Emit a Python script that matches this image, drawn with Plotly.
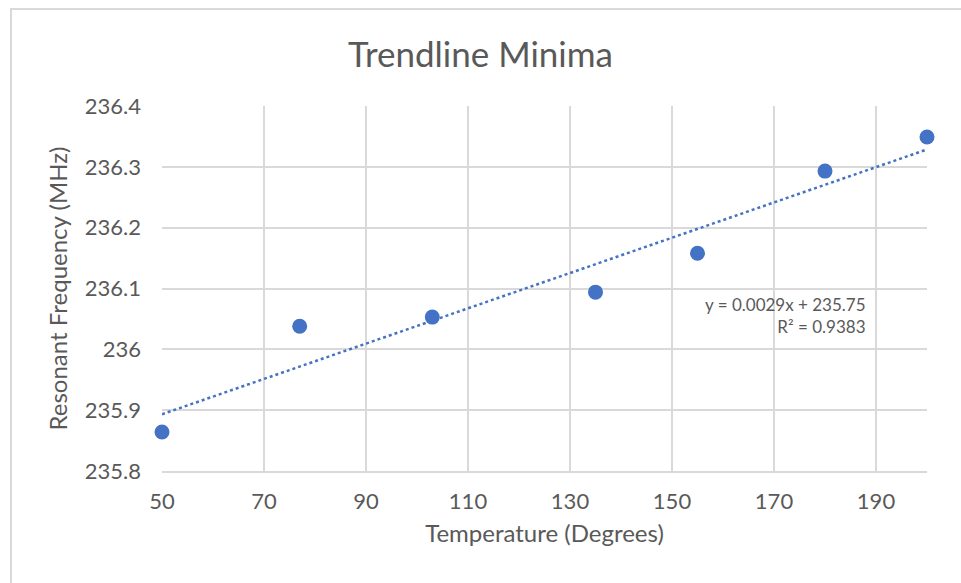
import numpy as np
import plotly.graph_objects as go

temperature = [50, 77, 103, 135, 155, 180, 200]
frequency = [235.864, 236.038, 236.053, 236.094, 236.158, 236.293, 236.349]
x_ticks = [50, 70, 90, 110, 130, 150, 170, 190]
y_ticks = [235.8, 235.9, 236.0, 236.1, 236.2, 236.3, 236.4]
y_tick_labels = ["235.8", "235.9", "236", "236.1", "236.2", "236.3", "236.4"]
equation_text = "y = 0.0029x + 235.75<br>R² = 0.9383"

slope, intercept = np.polyfit(temperature, frequency, 1)
trend_x = [50, 200]
trend_y = [slope * v + intercept for v in trend_x]

blue = "#4472C4"
grey_text = "#595959"
grid = "#d9d9d9"
font = "Lato"

fig = go.Figure()
fig.add_trace(go.Scatter(x=trend_x, y=trend_y, mode="lines",
                         line=dict(color=blue, width=2.5, dash="dot"),
                         hoverinfo="skip", cliponaxis=False))
fig.add_trace(go.Scatter(x=temperature, y=frequency, mode="markers",
                         marker=dict(color=blue, size=15), cliponaxis=False))

fig.update_layout(
    width=961, height=583,
    margin=dict(l=162, r=34, t=106, b=112),
    paper_bgcolor="white", plot_bgcolor="white",
    showlegend=False,
    font=dict(family=font, color=grey_text, size=20),
    title=dict(text="Trendline Minima", x=0.5, xanchor="center",
               y=1 - 55 / 583, yanchor="middle",
               font=dict(family=font, size=35, color=grey_text)),
    xaxis=dict(range=[50, 200], tickvals=x_ticks, showgrid=True, gridcolor=grid,
               gridwidth=1.5, zeroline=False, showline=True, linecolor=grid,
               linewidth=1.5, ticks="", ticklabelstandoff=10,
               title=dict(text="Temperature (Degrees)", standoff=12,
                          font=dict(family=font, size=24, color=grey_text)),
               tickfont=dict(family=font, size=22, color=grey_text)),
    yaxis=dict(range=[235.8, 236.4], tickvals=y_ticks, ticktext=y_tick_labels,
               showgrid=True, gridcolor=grid, gridwidth=1.5, zeroline=False,
               showline=False, ticks="", ticklabelstandoff=20,
               title=dict(text="Resonant Frequency (MHz)", standoff=10,
                          font=dict(family=font, size=24, color=grey_text)),
               tickfont=dict(family=font, size=22, color=grey_text)),
)

fig.add_annotation(x=188.4, y=236.056, xref="x", yref="y", text=equation_text,
                   showarrow=False, xanchor="right", yanchor="middle", align="right",
                   font=dict(family=font, size=17, color=grey_text))

# outer chart frame
fig.add_shape(type="rect", xref="paper", yref="paper",
              x0=(11 - 162) / 765, x1=(975 - 162) / 765,
              y0=(471 - 600) / 365, y1=1 + (106 - 9) / 365,
              line=dict(color=grid, width=2), layer="below")

fig.write_html("out.html")
